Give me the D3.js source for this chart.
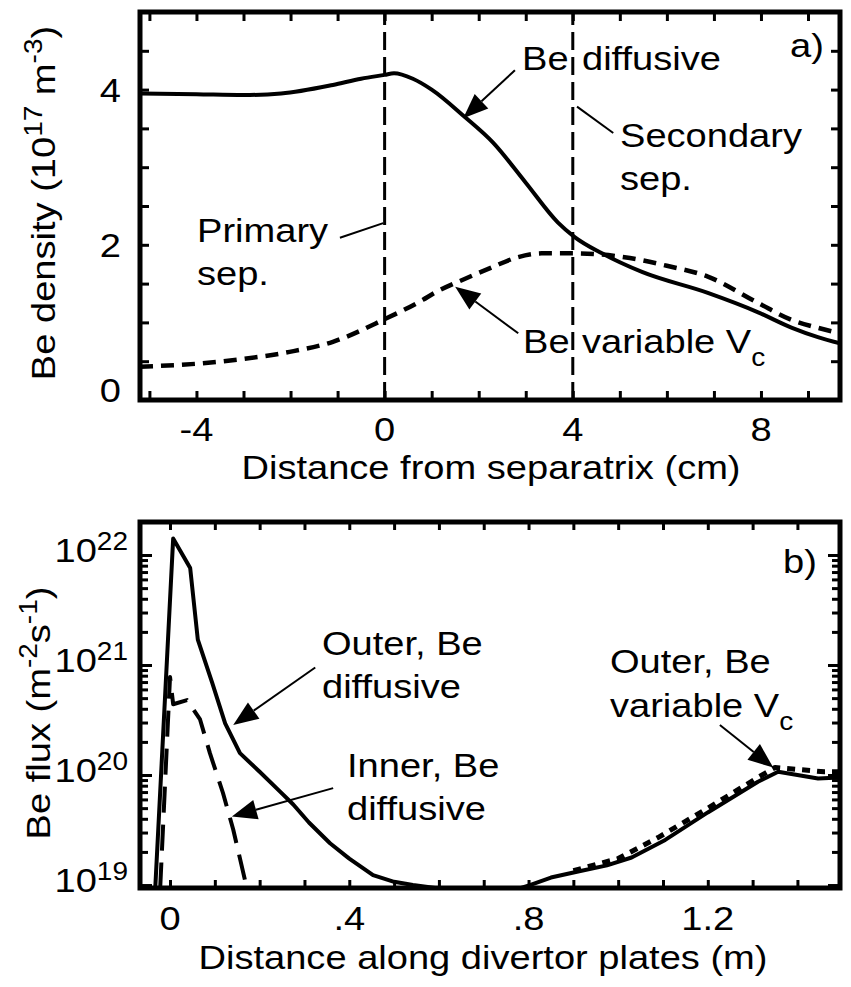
<!DOCTYPE html>
<html>
<head>
<meta charset="UTF-8">
<title>Be density and Be flux</title>
<script src="https://d3js.org/d3.v7.min.js"></script>
<style>
  body { margin: 0; background: #fff; }
  svg { display: block; }
  text { white-space: pre; fill: #000; }
</style>
</head>
<body>
<svg></svg>
<script>

// ---- panel a) Be density (1e17 m^-3) vs distance from separatrix (cm)
const densDiffX = [-5.2, -4, -3, -2.2, -1.1, -0.5, 0, 0.2, 0.6, 1.0, 1.7, 2.3, 3.0, 3.68, 4.04, 4.62, 5.47, 6.87, 7.94, 8.66, 9.21, 9.68];
const densDiffY = [3.95, 3.94, 3.93, 3.95, 4.06, 4.14, 4.19, 4.21, 4.14, 4.0, 3.65, 3.32, 2.80, 2.29, 2.10, 1.89, 1.65, 1.38, 1.13, 0.93, 0.81, 0.73];
const densVcX = [-5.2, -3.94, -3, -2.02, -1.1, -0.04, 0.81, 1.06, 1.7, 2.28, 2.83, 3.34, 4.0, 5.1, 6.0, 6.87, 7.94, 8.66, 9.21, 9.68];
const densVcY = [0.43, 0.47, 0.53, 0.62, 0.75, 1.03, 1.29, 1.38, 1.56, 1.71, 1.84, 1.89, 1.89, 1.84, 1.73, 1.59, 1.25, 1.03, 0.93, 0.86];
const sepX = [0, 4];
const aXTicks = d3.range(-5, 10, 1);
const aXLabels = [-4, 0, 4, 8];
const aYTicks = d3.range(0.5, 5, 0.5);
const aYLabels = [0, 2, 4];

// ---- panel b) Be flux (m^-2 s^-1) vs distance along divertor plates (m)
const outerX = [-0.033, 0.007, 0.045, 0.062, 0.094, 0.123, 0.156, 0.2, 0.245, 0.275, 0.31, 0.357, 0.4, 0.453, 0.5, 0.542, 0.6, 0.78, 0.803, 0.85, 0.908, 0.975, 1.03, 1.105, 1.2, 1.312, 1.357, 1.4, 1.446, 1.495];
const outerY = [9.3e18, 1.41e22, 7.6e21, 1.7e21, 6.9e20, 2.95e20, 1.58e20, 1.07e20, 7.1e19, 5.4e19, 3.7e19, 2.4e19, 1.74e19, 1.23e19, 1.07e19, 1.0e19, 9.3e18, 9.3e18, 1.0e19, 1.17e19, 1.32e19, 1.51e19, 1.78e19, 2.57e19, 4.57e19, 8.7e19, 1.07e20, 1.0e20, 9.3e19, 9.5e19];
const innerX = [-0.022, 0.0, 0.007, 0.038, 0.067, 0.089, 0.118, 0.141, 0.167];
const innerY = [9.3e18, 7.8e20, 4.4e20, 4.8e20, 3.2e20, 1.58e20, 6.9e19, 3.2e19, 1.12e19];
const vcX = [0.9, 1.0, 1.089, 1.2, 1.312, 1.35, 1.405, 1.46, 1.495];
const vcY = [1.35e19, 1.74e19, 2.7e19, 5.0e19, 9.5e19, 1.17e20, 1.12e20, 1.07e20, 1.07e20];
const bXTicks = d3.range(0, 15).map(i => i / 10);
const bXLabels = [0, 0.4, 0.8, 1.2];
const bYMajor = [1e19, 1e20, 1e21, 1e22];
const bYExp = ["19", "20", "21", "22"];
const bYMinor = [];
[1e18, 1e19, 1e20, 1e21, 1e22].forEach(d => d3.range(2, 10).forEach(m => bYMinor.push(m * d)));

// text looks a bit wide in the original, so stretch it horizontally
const SX = 1.12, FS = 34, FS_SMALL = 25;
const FONT = "'Liberation Sans', Arial, Helvetica, sans-serif";

let svg = d3.select("svg")
    .attr("width", 851)
    .attr("height", 987)
    .attr("font-family", FONT);

svg.append("rect").attr("width", 851).attr("height", 987).attr("fill", "#fff");

// parts: plain strings, or {t, dy} for super/subscripts
function label(g, x, y, anchor, parts, rot) {
    let t = g.append("text")
        .attr("transform", `translate(${x},${y})${rot ? " rotate(-90)" : ""} scale(${SX},1)`)
        .attr("text-anchor", anchor)
        .attr("font-size", FS);
    let off = 0;
    parts.forEach(p => {
        let s = typeof p === "string" ? {t: p, dy: 0, small: false} : {t: p.t, dy: p.dy, small: true};
        let ts = t.append("tspan").text(s.t);
        if (s.dy - off) ts.attr("dy", s.dy - off);
        off = s.dy;
        if (s.small) ts.attr("font-size", FS_SMALL);
    });
    return t;
}

function arrow(g, x1, y1, x2, y2) {
    let a = Math.atan2(y2 - y1, x2 - x1), L = 25, hw = 10;
    let bx = x2 - L * Math.cos(a), by = y2 - L * Math.sin(a);
    g.append("line")
        .attr("x1", x1).attr("y1", y1).attr("x2", bx).attr("y2", by)
        .attr("stroke", "#000").attr("stroke-width", 2);
    g.append("path")
        .attr("d", `M${x2},${y2}L${bx - hw * Math.sin(a)},${by + hw * Math.cos(a)}L${bx + hw * Math.sin(a)},${by - hw * Math.cos(a)}Z`)
        .attr("fill", "#000");
}

function tickMarks(g, axis, scale, values, size, tx, ty) {
    g.append("g")
        .attr("transform", `translate(${tx},${ty})`)
        .call(axis(scale).tickValues(values).tickSize(-size).tickFormat(""))
        .call(s => s.select(".domain").remove())
        .call(s => s.selectAll("line").attr("stroke-width", 3));
}

function curve(g, line, xs, ys, clip, dash, width) {
    g.append("path")
        .datum(xs.map((x, i) => [x, ys[i]]))
        .attr("clip-path", `url(#${clip})`)
        .attr("d", line)
        .attr("fill", "none")
        .attr("stroke", "#000")
        .attr("stroke-width", width)
        .attr("stroke-linejoin", "round")
        .attr("stroke-dasharray", dash);
}

// ================= panel a =================
let xA = d3.scaleLinear().domain([-5.2, 9.68]).range([140, 840]);
let yA = d3.scaleLinear().domain([0, 5]).range([400, 12]);
let gA = svg.append("g");

gA.append("clipPath").attr("id", "clipA").append("rect")
    .attr("x", 140).attr("y", 12).attr("width", 700).attr("height", 388);

// separatrix lines
gA.selectAll(".sep")
    .data(sepX)
    .enter()
    .append("line")
    .attr("x1", d => xA(d)).attr("x2", d => xA(d))
    .attr("y1", yA(0)).attr("y2", yA(5))
    .attr("stroke", "#000").attr("stroke-width", 3)
    .attr("stroke-dasharray", "18,7");

let lineA = d3.line().x(d => xA(d[0])).y(d => yA(d[1])).curve(d3.curveMonotoneX);
curve(gA, lineA, densDiffX, densDiffY, "clipA", null, 4);
curve(gA, lineA, densVcX, densVcY, "clipA", "13,8", 4.5);

gA.append("rect")
    .attr("x", 140).attr("y", 12).attr("width", 700).attr("height", 388)
    .attr("fill", "none").attr("stroke", "#000").attr("stroke-width", 5);

tickMarks(gA, d3.axisBottom, xA, aXTicks, 9, 0, 400);
tickMarks(gA, d3.axisTop, xA, aXTicks, 9, 0, 12);
tickMarks(gA, d3.axisLeft, yA, aYTicks, 9, 140, 0);
tickMarks(gA, d3.axisRight, yA, aYTicks, 9, 840, 0);

aXLabels.forEach(v => label(gA, xA(v), 441, "middle", [String(v)]));
aYLabels.forEach(v => label(gA, 121, Math.min(yA(v) + 12, 402), "end", [String(v)]));

label(gA, 491, 479, "middle", ["Distance from separatrix (cm)"]);
label(gA, 55, 203, "middle", ["Be density (10", {t: "17", dy: -13}, " m", {t: "-3", dy: -13}, ")"], true);

label(gA, 790, 57, "start", ["a)"]);
label(gA, 522, 70, "start", ["Be"]);
label(gA, 582, 70, "start", ["diffusive"]);
label(gA, 620, 147, "start", ["Secondary"]);
label(gA, 620, 190, "start", ["sep."]);
label(gA, 197, 242, "start", ["Primary"]);
label(gA, 197, 285, "start", ["sep."]);
label(gA, 523, 353, "start", ["Be"]);
label(gA, 582, 353, "start", ["variable V", {t: "c", dy: 13}]);

arrow(gA, xA(2.77), yA(4.25), xA(1.67), yA(3.63));
arrow(gA, xA(2.84), yA(0.86), xA(1.50), yA(1.46));
gA.append("line")
    .attr("x1", xA(4.09)).attr("y1", yA(3.78)).attr("x2", xA(4.86)).attr("y2", yA(3.44))
    .attr("stroke", "#000").attr("stroke-width", 2);
gA.append("line")
    .attr("x1", xA(-0.95)).attr("y1", yA(2.09)).attr("x2", xA(-0.03)).attr("y2", yA(2.28))
    .attr("stroke", "#000").attr("stroke-width", 2);

// ================= panel b =================
let xB = d3.scaleLinear().domain([-0.067, 1.495]).range([140, 840]);
let yB = d3.scaleLog().domain([Math.pow(10, 18.973), Math.pow(10, 22.3)]).range([888, 522]);
let gB = svg.append("g");

gB.append("clipPath").attr("id", "clipB").append("rect")
    .attr("x", 140).attr("y", 522).attr("width", 700).attr("height", 366);

let lineB = d3.line().x(d => xB(d[0])).y(d => yB(d[1]));
curve(gB, lineB, innerX, innerY, "clipB", "26,12", 4);
curve(gB, lineB, vcX, vcY, "clipB", "8,7", 5);
curve(gB, lineB, outerX, outerY, "clipB", null, 4);

gB.append("rect")
    .attr("x", 140).attr("y", 522).attr("width", 700).attr("height", 366)
    .attr("fill", "none").attr("stroke", "#000").attr("stroke-width", 5);

let inB = v => v > yB.domain()[0] && v < yB.domain()[1];
tickMarks(gB, d3.axisBottom, xB, bXTicks, 8, 0, 888);
tickMarks(gB, d3.axisTop, xB, bXTicks, 8, 0, 522);
tickMarks(gB, d3.axisLeft, yB, bYMinor.filter(inB), 8, 140, 0);
tickMarks(gB, d3.axisRight, yB, bYMinor.filter(inB), 8, 840, 0);
tickMarks(gB, d3.axisLeft, yB, bYMajor, 12, 140, 0);
tickMarks(gB, d3.axisRight, yB, bYMajor, 12, 840, 0);

bXLabels.forEach(v => label(gB, xB(v), 930, "middle", [v === 0 ? "0" : String(v).replace(/^0/, "")]));
bYMajor.forEach((v, i) => label(gB, 128, yB(v) + 7, "end", ["10", {t: bYExp[i], dy: -12}]));

label(gB, 483, 969, "middle", ["Distance along divertor plates (m)"]);
label(gB, 50, 713, "middle", ["Be flux (m", {t: "-2", dy: -13}, "s", {t: "-1", dy: -13}, ")"], true);

label(gB, 783, 573, "start", ["b)"]);
label(gB, 322, 655, "start", ["Outer, Be"]);
label(gB, 322, 698, "start", ["diffusive"]);
label(gB, 347, 777, "start", ["Inner, Be"]);
label(gB, 347, 820, "start", ["diffusive"]);
label(gB, 610, 673, "start", ["Outer, Be"]);
label(gB, 610, 717, "start", ["variable V", {t: "c", dy: 13}]);

arrow(gB, xB(0.324), yB(9.5e20), xB(0.141), yB(2.85e20));
arrow(gB, xB(0.364), yB(7.6e19), xB(0.138), yB(4.2e19));
arrow(gB, xB(1.227), yB(2.85e20), xB(1.346), yB(1.17e20));

</script>
</body>
</html>
